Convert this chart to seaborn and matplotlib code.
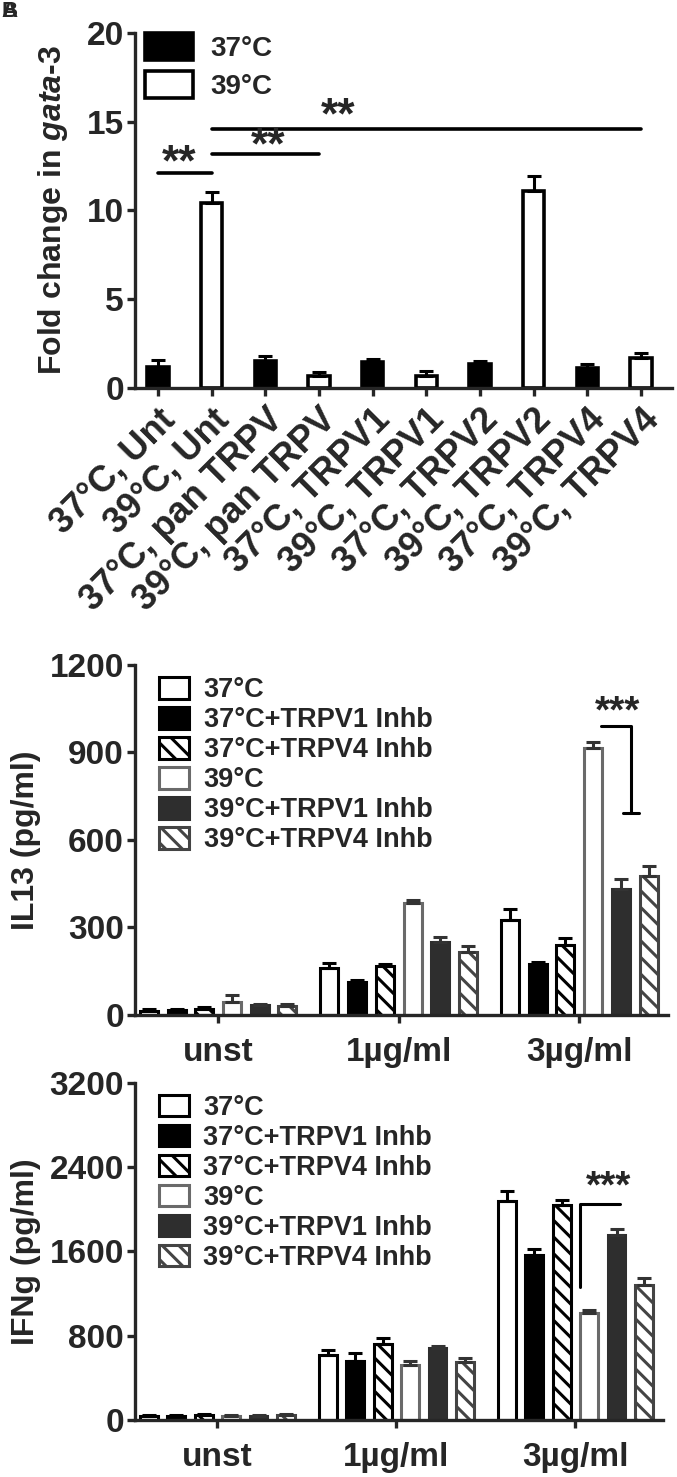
import numpy as np
import pandas as pd
import matplotlib
matplotlib.use("Agg")
import matplotlib.pyplot as plt
import seaborn as sns
from matplotlib.patches import Patch

# --------------------------------------------------------------------------- #
#                                 DATA                                         #
# --------------------------------------------------------------------------- #
# Panel A: gata-3 fold change
A_LABELS = ["37°C, Unt", "39°C, Unt", "37°C, pan TRPV", "39°C, pan TRPV",
            "37°C, TRPV1", "39°C, TRPV1", "37°C, TRPV2", "39°C, TRPV2",
            "37°C, TRPV4", "39°C, TRPV4"]
A_TEMP = ["37°C", "39°C", "37°C", "39°C", "37°C", "39°C", "37°C", "39°C", "37°C", "39°C"]
A_MEAN = [1.2, 10.4, 1.5, 0.7, 1.45, 0.65, 1.35, 11.1, 1.1, 1.7]
A_ERR = [0.35, 0.65, 0.28, 0.2, 0.2, 0.3, 0.18, 0.85, 0.28, 0.28]
# significance: (bar i, bar j, line height, star x, star centre height)
A_SIG = [(0, 1, 12.1, 0.4, 12.85), (1, 3, 13.2, 2.05, 13.8), (1, 9, 14.6, 3.35, 15.5)]

# Panels B and C: cytokines
DOSES = ["unst", "1µg/ml", "3µg/ml"]
CONDS = ["37°C", "37°C+TRPV1 Inhb", "37°C+TRPV4 Inhb",
         "39°C", "39°C+TRPV1 Inhb", "39°C+TRPV4 Inhb"]

IL13_MEAN = [[15, 160, 326],
             [17, 114, 175],
             [22, 168, 240],
             [45, 383, 914],
             [33, 249, 431],
             [30, 217, 477]]
IL13_ERR = [[5, 17, 36],
            [4, 6, 8],
            [5, 6, 23],
            [25, 11, 23],
            [4, 20, 34],
            [6, 21, 34]]

IFNG_MEAN = [[40, 617, 2080],
             [40, 562, 1565],
             [50, 725, 2037],
             [40, 521, 1015],
             [40, 685, 1756],
             [45, 552, 1278]]
IFNG_ERR = [[8, 46, 93],
            [8, 71, 58],
            [10, 53, 52],
            [8, 41, 25],
            [8, 19, 62],
            [8, 41, 71]]

# bar styling per condition: (face, edge, hatch)
STYLE = [("white", "black", None),
         ("black", "black", None),
         ("white", "black", "\\\\"),
         ("white", "#6a6a6a", None),
         ("#2e2e2e", "#2e2e2e", None),
         ("white", "#444444", "\\\\")]

# --------------------------------------------------------------------------- #
#                                 STYLE                                        #
# --------------------------------------------------------------------------- #
sns.set_style("ticks")
FONT = ["Liberation Sans", "DejaVu Sans"]
plt.rcParams["font.family"] = FONT
plt.rcParams["font.weight"] = "bold"
plt.rcParams["axes.labelweight"] = "bold"
plt.rcParams["mathtext.fontset"] = "custom"
plt.rcParams["mathtext.it"] = "Liberation Sans:italic:bold"
plt.rcParams["mathtext.rm"] = "Liberation Sans:bold"
plt.rcParams["hatch.linewidth"] = 2.2
plt.rcParams["axes.linewidth"] = 2.4
plt.rcParams["xtick.major.width"] = 2.4
plt.rcParams["ytick.major.width"] = 2.4
plt.rcParams["xtick.major.size"] = 6
plt.rcParams["ytick.major.size"] = 6

TICK_FS = 24
LABEL_FS = 23
LEG_FS = 19.5

fig = plt.figure(figsize=(6.77, 14.77), dpi=100)
axA = fig.add_axes([0.1994, 0.7373, 0.7932, 0.2404])
axB = fig.add_axes([0.1994, 0.3128, 0.7870, 0.2370])
axC = fig.add_axes([0.1994, 0.0386, 0.7800, 0.2282])


def add_caps(ax, bars, errs, color="black"):
    """Upward-only error bars on top of each bar."""
    xs = [p.get_x() + p.get_width() / 2 for p in bars]
    ys = [p.get_height() for p in bars]
    ax.errorbar(xs, ys, yerr=[np.zeros(len(errs)), errs], fmt="none",
                ecolor=color, elinewidth=2.2, capsize=5, capthick=2.2, zorder=1)
    return xs


# --------------------------------------------------------------------------- #
#                                 PANEL A                                      #
# --------------------------------------------------------------------------- #
dfA = pd.DataFrame({"label": A_LABELS, "temp": A_TEMP, "value": A_MEAN})
sns.barplot(data=dfA, x="label", y="value", hue="temp", order=A_LABELS,
            hue_order=["37°C", "39°C"], palette={"37°C": "black", "39°C": "white"},
            dodge=False, width=0.4, errorbar=None, legend=False, ax=axA)
barsA = []
for c in list(axA.containers):
    for p in c:
        if p.get_height() > 0:
            p.set_edgecolor("black")
            p.set_linewidth(2.6)
            barsA.append(p)
barsA.sort(key=lambda p: p.get_x())
xA = add_caps(axA, barsA, A_ERR)

for i, j, h, sx, sy in A_SIG:
    axA.plot([xA[i], xA[j]], [h, h], color="black", lw=2.6, solid_capstyle="round")
    # asterisk glyphs sit ~0.85 units above the baseline at this size
    axA.text(sx, sy - 0.85, "**", ha="center", va="baseline", fontsize=32, fontweight="bold")

axA.set_ylim(0, 20)
axA.set_yticks([0, 5, 10, 15, 20])
axA.set_xlim(-0.43, 9.58)
axA.set_xlabel("")
axA.set_ylabel("Fold change in $\\it{gata}$-3", fontsize=LABEL_FS, labelpad=12)
axA.tick_params(axis="y", labelsize=TICK_FS, pad=2)
axA.tick_params(axis="x", labelsize=TICK_FS, pad=4)
for t in axA.get_xticklabels():
    t.set_rotation(45)
    t.set_ha("right")
    t.set_rotation_mode("anchor")
    t.set_fontsize(26)
axA.legend(handles=[Patch(facecolor="black", edgecolor="black", lw=2.6, label="37°C"),
                    Patch(facecolor="white", edgecolor="black", lw=2.6, label="39°C")],
           loc="upper left", bbox_to_anchor=(0.018, 1.0), frameon=False, handlelength=1.75,
           handleheight=1.1, handletextpad=0.6, labelspacing=0.35,
           borderaxespad=0.0, borderpad=0.0,
           prop={"weight": "bold", "size": 20})
sns.despine(ax=axA)


# --------------------------------------------------------------------------- #
#                              PANELS B and C                                  #
# --------------------------------------------------------------------------- #
def cytokine_panel(ax, means, errs, ymax, yticks, ylabel):
    rows = []
    for ci, cond in enumerate(CONDS):
        for di, dose in enumerate(DOSES):
            rows.append({"dose": dose, "cond": cond, "value": means[ci][di]})
    df = pd.DataFrame(rows)
    sns.barplot(data=df, x="dose", y="value", hue="cond", order=DOSES, hue_order=CONDS,
                palette=["white"] * len(CONDS), width=0.92, gap=0.35,
                errorbar=None, legend=False, ax=ax)
    bar_groups = list(ax.containers)
    xs = {}
    for ci, c in enumerate(bar_groups):
        face, edge, hatch = STYLE[ci]
        for p in c:
            p.set_facecolor(face)
            p.set_edgecolor(edge)
            p.set_linewidth(2.2)
            if hatch:
                p.set_hatch(hatch)
        cap = "black" if ci < 3 else "#333333"
        xs[ci] = add_caps(ax, list(c), errs[ci], color=cap)

    handles = []
    for ci, cond in enumerate(CONDS):
        face, edge, hatch = STYLE[ci]
        handles.append(Patch(facecolor=face, edgecolor=edge, hatch=hatch, lw=2.2, label=cond))
    ax.legend(handles=handles, loc="upper left", bbox_to_anchor=(0.045, 0.965),
              frameon=False, handlelength=1.1, handleheight=0.85, handletextpad=0.55,
              labelspacing=0.14, borderaxespad=0.0, borderpad=0.0,
              prop={"weight": "bold", "size": LEG_FS})

    ax.set_ylim(0, ymax)
    ax.set_yticks(yticks)
    ax.set_xlim(-0.46, 2.49)
    ax.set_xlabel("")
    ax.set_ylabel(ylabel, fontsize=LABEL_FS, labelpad=6)
    ax.tick_params(axis="y", labelsize=TICK_FS, pad=2)
    ax.tick_params(axis="x", labelsize=TICK_FS, pad=10)
    sns.despine(ax=ax)
    return xs


xsB = cytokine_panel(axB, IL13_MEAN, IL13_ERR, 1200, [0, 300, 600, 900, 1200], "IL13 (pg/ml)")
# *** bracket: 39°C vs inhibitors at 3 µg/ml
bx = (xsB[4][2] + xsB[5][2]) / 2 - 0.02
axB.plot([xsB[3][2] + 0.045, bx, bx], [991, 991, 691], color="black", lw=2.2)
axB.plot([bx - 0.045, bx + 0.045], [691, 691], color="black", lw=2.2)
axB.text(xsB[4][2] - 0.02, 1004, "***", ha="center", va="baseline",
         fontsize=28, fontweight="bold")

xsC = cytokine_panel(axC, IFNG_MEAN, IFNG_ERR, 3200, [0, 800, 1600, 2400, 3200], "IFNg (pg/ml)")
cx = xsC[3][2] - 0.05
axC.plot([cx, cx, xsC[4][2] + 0.02], [1262, 2052, 2052], color="black", lw=2.2)
axC.text((xsC[3][2] + xsC[4][2]) / 2 + 0.03, 2115, "***", ha="center", va="baseline",
         fontsize=28, fontweight="bold")

# panel label
fig.text(0.002, 0.999, "A", ha="left", va="top", fontsize=16, fontweight="bold")
fig.text(0.002, 0.999, "B", ha="left", va="top", fontsize=16, fontweight="bold")

fig.savefig("out.png", dpi=100)
